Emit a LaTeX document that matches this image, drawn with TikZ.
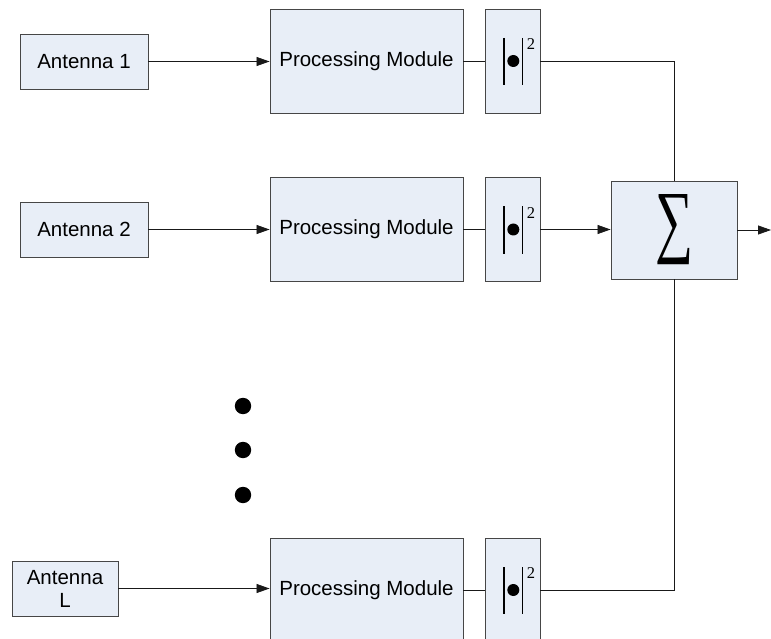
\documentclass[tikz,border=0pt]{standalone}
\usepackage{fontspec}
\setmainfont{Liberation Sans}
\newfontfamily\serifface{Liberation Serif}
\usepackage{graphicx}
\usetikzlibrary{arrows.meta}
\definecolor{boxfill}{RGB}{232,238,247}
\definecolor{boxline}{RGB}{70,70,70}
\tikzset{
  blk/.style={draw=boxline, fill=boxfill, line width=0.9pt, inner sep=0pt,
              font=\fontsize{20.5}{24}\selectfont},
  ant/.style={blk, minimum width=128pt, minimum height=55pt},
  pm/.style={blk, minimum width=193pt, minimum height=104pt},
  % squared-magnitude block: |bullet| with a superscript 2
  sq/.style={blk, minimum width=55pt, minimum height=104pt,
    path picture={
      \coordinate (c) at (path picture bounding box.center);
      \draw[black, line width=1.3pt] ([shift={(-8.5,-23)}]c) -- ([shift={(-8.5,24)}]c);
      \draw[black, line width=1.3pt] ([shift={(10,-23)}]c) -- ([shift={(10,24)}]c);
      \fill[black] ([shift={(0.8,0)}]c) circle (6pt);
      \node[inner sep=0pt, text=black, font=\serifface\fontsize{16.5}{16.5}\selectfont]
        at ([shift={(18.5,-16.5)}]c) {2};
    }},
  wire/.style={line width=0.8pt, draw=black!90},
  arr/.style={wire, -{Triangle[length=13pt,width=9pt]}}
}
\begin{document}
\begin{tikzpicture}[x=1pt,y=-1pt]
\clip (0,0) rectangle (771,639);
\fill[white] (0,0) rectangle (771,639);

% branch 1
\node[ant] (a1) at (84,61.5) {Antenna 1};
\node[pm]  (p1) at (366.5,61) {Processing Module};
\node[sq]  (s1) at (512.5,61) {};

% branch 2
\node[ant] (a2) at (84,229.5) {Antenna 2};
\node[pm]  (p2) at (366.5,229.5) {Processing Module};
\node[sq]  (s2) at (512.5,229.5) {};

% branch L
\node[ant, minimum width=106pt, align=center] (aL) at (65,588.5) {Antenna\\[-1pt]L};
\node[pm]  (pL) at (366.5,590) {Processing Module};
\node[sq]  (sL) at (512.5,590) {};

% combiner
\node[blk, minimum width=126pt, minimum height=98pt] (sum) at (674,230)
  {\resizebox{38pt}{53pt}{\serifface ∑}};
\coordinate (out) at (771,230);

% ellipsis dots
\foreach \y [count=\i] in {406,450,495}
  \fill (243,\y) circle (8.2pt) coordinate (dot\i);

% connectors
\draw[arr] (a1.east) -- (a1.east -| p1.west);
\draw[arr] (a2.east) -- (a2.east -| p2.west);
\draw[arr] (aL.east) -- (aL.east -| pL.west);
\draw[wire] (p1.east) -- (s1.west);
\draw[wire] (p2.east) -- (s2.west);
\draw[wire] (pL.east) -- (sL.west);
\draw[wire] (s1.east) -| (sum.north);
\draw[arr]  (s2.east) -- (s2.east -| sum.west);
\draw[wire] (sL.east) -| (sum.south);
\draw[arr]  (sum.east) -- (out);
\end{tikzpicture}
\end{document}
